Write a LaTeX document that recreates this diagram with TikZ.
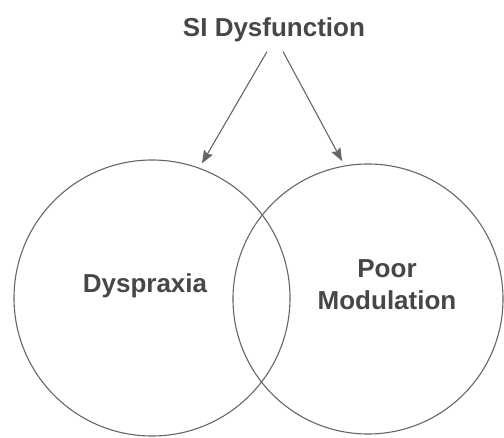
\documentclass[tikz,border=0pt]{standalone}
\usepackage{fontspec}
\setmainfont{Liberation Sans}
\usepackage{tikz}
\usetikzlibrary{arrows.meta,calc}

\begin{document}
\begin{tikzpicture}[x=1pt,y=1pt,
    venn/.style={draw=black!60, line width=1.1pt, circle, inner sep=0pt},
    lbl/.style={text=black!72, font=\bfseries\fontsize{26}{33}\selectfont, inner sep=0pt, align=center},
    arr/.style={draw=black!60, line width=1.1pt, -{Stealth[length=13pt,width=10pt,inset=2pt]}, shorten >=5pt}]
    \useasboundingbox (0,0) rectangle (504,437);

    \node[venn, minimum size=276pt] (dysC) at (152,139) {};
    \node[venn, minimum size=270pt] (modC) at (368,138) {};

    \node[lbl, anchor=base] (title) at (274,400) {SI Dysfunction};
    \node[lbl, anchor=base] (dysL) at (145,144) {Dyspraxia};
    \node[lbl, anchor=base] (modL) at (387,127) {Poor\\Modulation};

    \draw[arr] ([xshift=-7pt,yshift=-9pt]title.south) -- (dysC.70);
    \draw[arr] ([xshift=9pt,yshift=-9pt]title.south) -- (modC.100);
\end{tikzpicture}
\end{document}
